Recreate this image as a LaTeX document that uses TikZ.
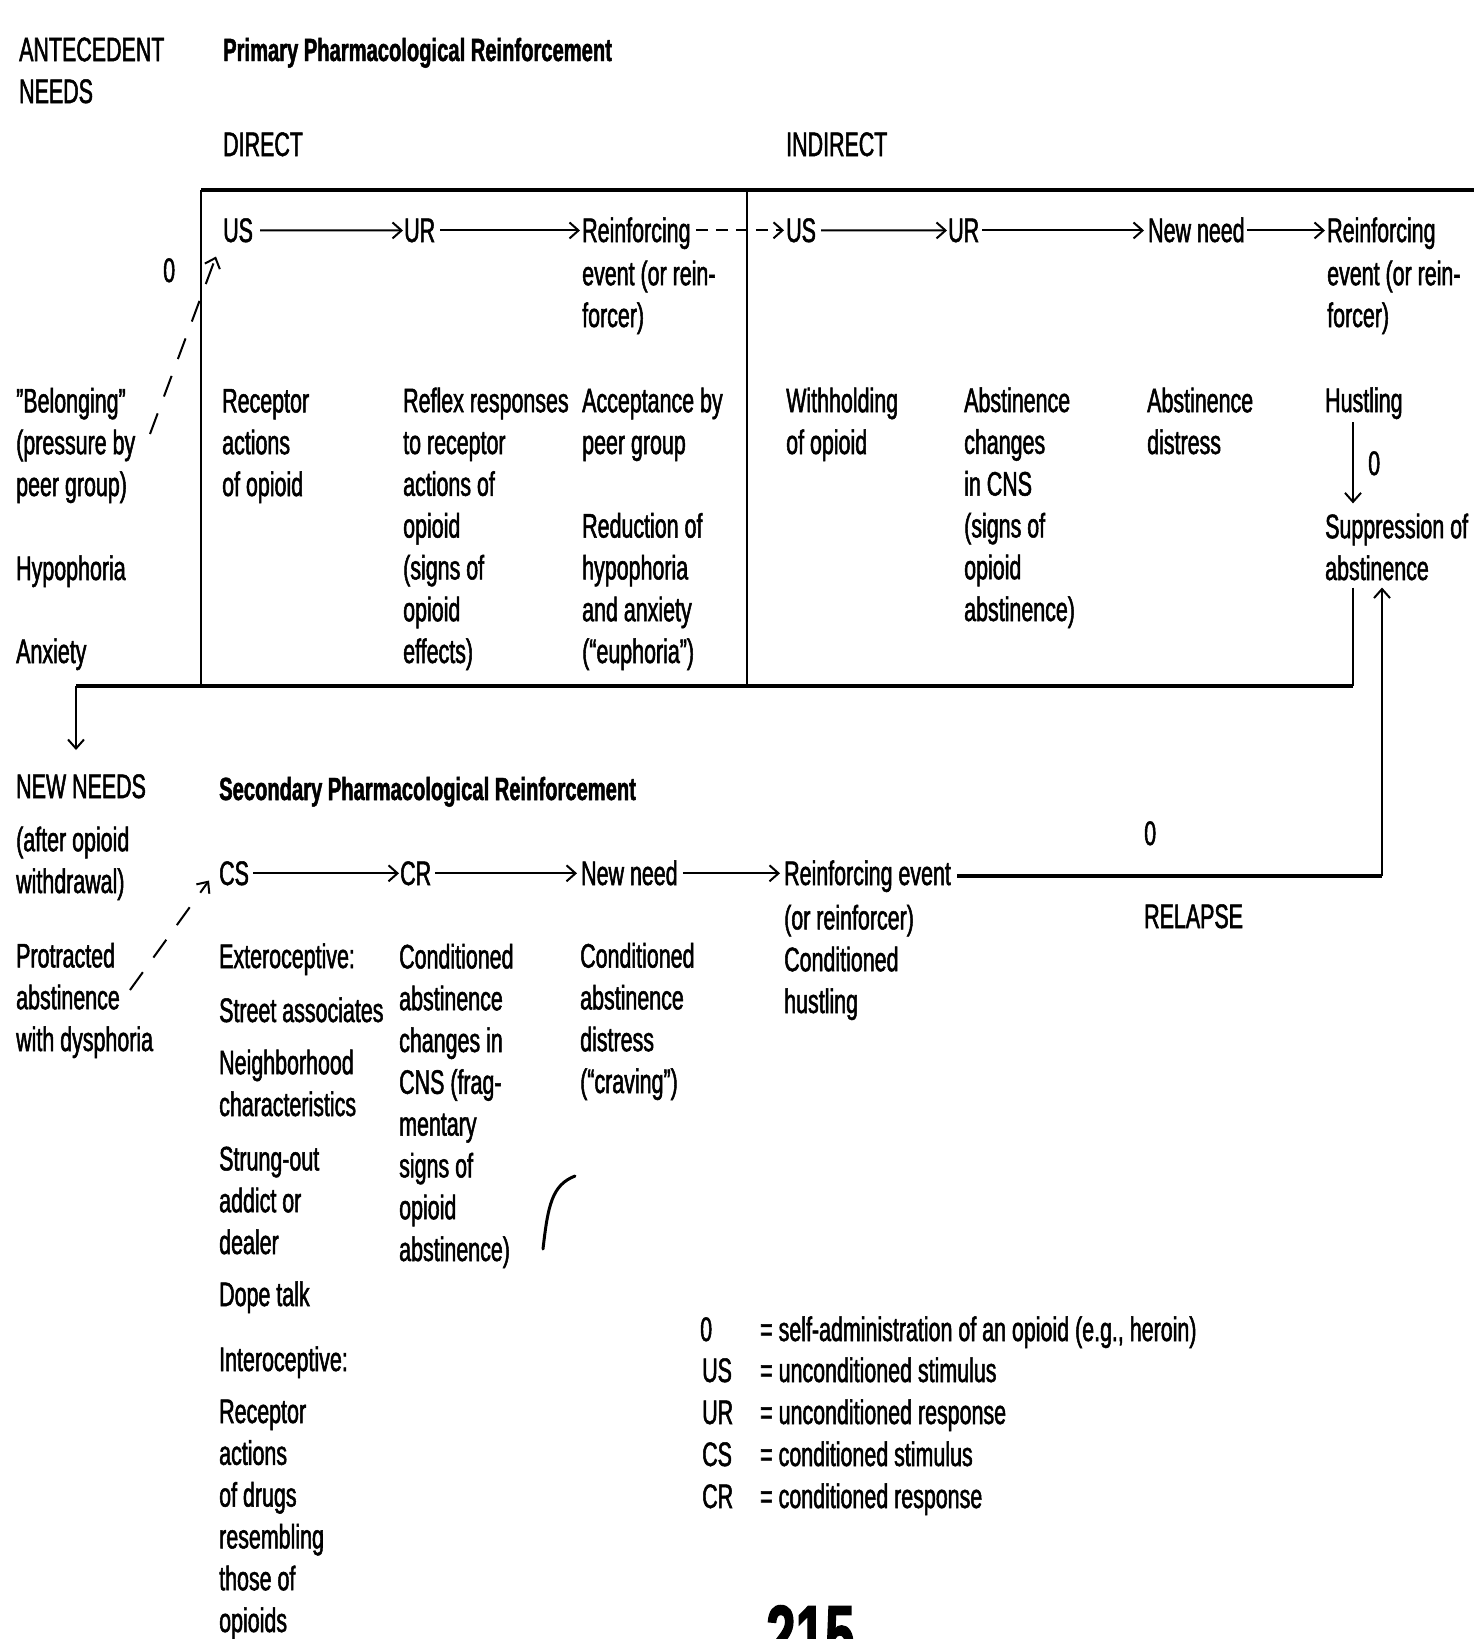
\documentclass[tikz,border=0pt]{standalone}
\usepackage{fontspec}
\setmainfont{Liberation Sans}[FakeStretch=0.63, FakeBold=1.5]
\usetikzlibrary{arrows.meta}
\begin{document}
\begin{tikzpicture}[x=1pt,y=-1pt,
  txt/.style={inner sep=0pt, anchor=base west, align=left, font=\fontsize{34}{41.8}\selectfont},
  hd/.style={txt, font=\fontsize{32}{40}\selectfont\bfseries},
  arr/.style={line width=2pt, -{Straight Barb[length=9pt,width=16pt,line width=2pt]}},
  dasharr/.style={arr, dash pattern=on 22pt off 18pt},
  thinline/.style={line width=2pt},
  thickline/.style={line width=3.5pt}
]
\useasboundingbox (0,0) rectangle (1480,1639);
\fill[white] (0,0) rectangle (1480,1639);

% headings (multi-line nodes are placed by the baseline of their last line)
\node[txt] (ante) at (19,103) {ANTECEDENT\\NEEDS};
\node[hd] (prim) at (223,61) {Primary Pharmacological Reinforcement};
\node[txt] (direct) at (223,156) {DIRECT};
\node[txt] (indirect) at (786,156) {INDIRECT};

% box
\draw[thickline] (201,190) -- (1474,190);
\draw[thinline] (201,190) -- (201,686);
\draw[thinline] (747,190) -- (747,686);

% top row
\node[txt] (us1) at (223,242) {US};
\node[txt] (ur1) at (404,242) {UR};
\node[txt] (re1) at (582,242) {Reinforcing};
\node[txt] (re1b) at (582,327) {event (or rein-\\forcer)};
\node[txt] (us2) at (786,242) {US};
\node[txt] (ur2) at (948,242) {UR};
\node[txt] (nn1) at (1148,242) {New need};
\node[txt] (re2) at (1327,242) {Reinforcing};
\node[txt] (re2b) at (1327,327) {event (or rein-\\forcer)};

\draw[arr, shorten <=7pt, shorten >=1pt] (us1.east) -- (ur1.west);
\draw[arr, shorten <=5pt, shorten >=2pt] (ur1.east) -- (re1.west |- ur1.east);
\draw[dasharr, dash pattern=on 12pt off 8pt, shorten <=5pt, shorten >=2pt] (re1.east |- us2.west) -- (us2.west);
\draw[arr, shorten <=5pt, shorten >=1pt] (us2.east) -- (ur2.west);
\draw[arr, shorten <=3pt, shorten >=4pt] (ur2.east) -- (nn1.west |- ur2.east);
\draw[arr, shorten <=2pt, shorten >=2pt] (nn1.east |- ur2.east) -- (re2.west |- ur2.east);

% antecedent needs
\node[txt] (bel) at (16,496) {"Belonging"\\(pressure by\\peer group)};
\node[txt] (hypo) at (16,580) {Hypophoria};
\node[txt] (anx) at (16,663) {Anxiety};
\node[txt] (z1) at (163,282) {0};
\coordinate (d1s) at (150,434);
\draw[dasharr] (d1s) -- ([shift={(-7pt,-14pt)}]us1.south west);

% descriptions
\node[txt] (recact) at (222,496) {Receptor\\actions\\of opioid};
\node[txt] (reflex) at (403,663) {Reflex responses\\to receptor\\actions of\\opioid\\(signs of\\opioid\\effects)};
\node[txt] (accept) at (582,454) {Acceptance by\\peer group};
\node[txt] (reduct) at (582,663) {Reduction of\\hypophoria\\and anxiety\\(``euphoria'')};
\node[txt] (withh) at (786,454) {Withholding\\of opioid};
\node[txt] (abch) at (964,621) {Abstinence\\changes\\in CNS\\(signs of\\opioid\\abstinence)};
\node[txt] (abdis) at (1147,454) {Abstinence\\distress};
\node[txt] (hust) at (1325,412) {Hustling};
\node[txt] (supp) at (1325,580) {Suppression of\\abstinence};
\node[txt] (z2) at (1368,475) {0};
\coordinate (hx) at (1353,0);
\draw[arr, shorten <=3pt, shorten >=10pt] (hust.south -| hx) -- (supp.north -| hx);

% flow to new needs
\coordinate (c1) at (1353,686);
\coordinate (c2) at (76,686);
\coordinate (c3) at (76,750);
\draw[thinline] ([yshift=-7pt]supp.south -| c1) -- (c1);
\draw[thickline] (c1) -- (c2);
\draw[arr] (c2) -- (c3);

% new needs
\node[txt] (newn) at (16,798) {NEW NEEDS};
\node[txt] (after) at (16,893) {(after opioid\\withdrawal)};
\node[txt] (protr) at (16,1051) {Protracted\\abstinence\\with dysphoria};
\node[hd] (sec) at (219,800) {Secondary Pharmacological Reinforcement};

% bottom row
\node[txt] (cs) at (219,885) {CS};
\node[txt] (cr) at (400,885) {CR};
\node[txt] (nn2) at (581,885) {New need};
\node[txt] (re3) at (784,885) {Reinforcing event};
\node[txt] (re3b) at (784,1013) {(or reinforcer)\\Conditioned\\hustling};
\draw[arr, shorten <=4pt, shorten >=1pt] (cs.east) -- (cr.west);
\draw[arr, shorten <=4pt, shorten >=4pt] (cr.east) -- (nn2.west |- cr.east);
\draw[arr, shorten <=5pt, shorten >=4pt] (nn2.east |- cr.east) -- (re3.west |- cr.east);

\coordinate (d2s) at (130,990);
\draw[dasharr] (d2s) -- ([shift={(-10pt,5pt)}]cs.south west);

% relapse
\coordinate (rc) at (1382,876);
\draw[thickline] ([xshift=6pt]re3.east |- rc) -- (rc);
\draw[arr, shorten >=7pt] (rc) -- (rc |- supp.south);
\node[txt] (z3) at (1144,845) {0};
\node[txt] (relapse) at (1144,928) {RELAPSE};

% secondary descriptions
\node[txt] (exter) at (219,968) {Exteroceptive:};
\node[txt] (street) at (219,1022) {Street associates};
\node[txt] (neigh) at (219,1116) {Neighborhood\\characteristics};
\node[txt] (strung) at (219,1254) {Strung-out\\addict or\\dealer};
\node[txt] (dope) at (219,1306) {Dope talk};
\node[txt] (intero) at (219,1371) {Interoceptive:};
\node[txt] (recdr) at (219,1632) {Receptor\\actions\\of drugs\\resembling\\those of\\opioids};
\node[txt] (condab) at (399,1261) {Conditioned\\abstinence\\changes in\\CNS (frag-\\mentary\\signs of\\opioid\\abstinence)};
\node[txt] (condd) at (580,1093) {Conditioned\\abstinence\\distress\\(``craving'')};

% stray mark
\draw[line width=3pt, line cap=round] (543,1249) .. controls (548,1205) and (552,1185) .. (575,1176);

% legend
\node[txt] (k0) at (700,1341) {0};
\node[txt] (v0) at (760,1341) {= self-administration of an opioid (e.g., heroin)};
\node[txt] (k1) at (702,1382) {US};
\node[txt] (v1) at (760,1382) {= unconditioned stimulus};
\node[txt] (k2) at (702,1424) {UR};
\node[txt] (v2) at (760,1424) {= unconditioned response};
\node[txt] (k3) at (702,1466) {CS};
\node[txt] (v3) at (760,1466) {= conditioned stimulus};
\node[txt] (k4) at (702,1508) {CR};
\node[txt] (v4) at (760,1508) {= conditioned response};

\node[inner sep=0pt, anchor=base west, font=\fontsize{84}{90}\selectfont\bfseries] (pg) at (766,1664) {215};
\end{tikzpicture}
\end{document}
